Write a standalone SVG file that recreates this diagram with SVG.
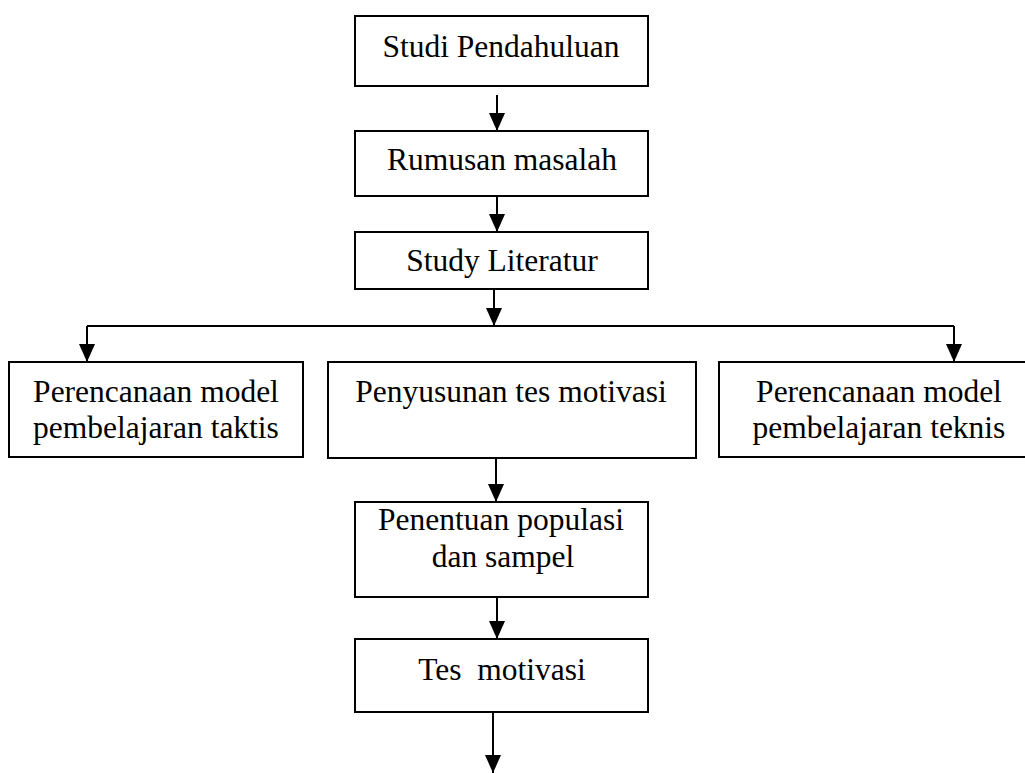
<svg xmlns="http://www.w3.org/2000/svg" width="1025" height="773" viewBox="0 0 1025 773">
<style>
.box{fill:#fff;stroke:#000;stroke-width:2}
.t{font-family:"Liberation Serif","Times New Roman",serif;font-size:31.5px;fill:#000;text-anchor:middle;white-space:pre}
.c{fill:none;stroke:#000;stroke-width:2}
</style>
<defs>
<marker id="ah" markerWidth="18" markerHeight="16" refX="18" refY="8" orient="auto" markerUnits="userSpaceOnUse" viewBox="0 0 18 16">
<path d="M0,0 L18,8 L0,16 Z" fill="#000"/>
</marker>
</defs>
<rect width="1025" height="773" fill="#fff"/>
<g id="n1"><rect class="box" x="355" y="16" width="293" height="70"/><text class="t" x="501" y="57">Studi Pendahuluan</text></g>
<g id="n2"><rect class="box" x="355" y="131" width="293" height="65"/><text class="t" x="502" y="170">Rumusan masalah</text></g>
<g id="n3"><rect class="box" x="355" y="232" width="293" height="57"/><text class="t" x="502" y="271">Study Literatur</text></g>
<g id="n4"><rect class="box" x="9" y="362" width="294" height="95"/><text class="t" x="156" y="402">Perencanaan model</text><text class="t" x="156" y="438">pembelajaran taktis</text></g>
<g id="n5"><rect class="box" x="328" y="362" width="368" height="96"/><text class="t" x="511" y="402">Penyusunan tes motivasi</text></g>
<g id="n6"><rect class="box" x="719" y="362" width="320" height="95"/><text class="t" x="879" y="402">Perencanaan model</text><text class="t" x="879" y="438">pembelajaran teknis</text></g>
<g id="n7"><rect class="box" x="355" y="502" width="293" height="95"/><text class="t" x="501" y="530">Penentuan populasi</text><text class="t" x="503" y="567">dan sampel</text></g>
<g id="n8"><rect class="box" x="355" y="639" width="293" height="73"/><text class="t" x="502" y="680">Tes  motivasi</text></g>
<g id="connectors">
<path class="c" d="M497,95 V131" marker-end="url(#ah)"/>
<path class="c" d="M497,196 V232" marker-end="url(#ah)"/>
<path class="c" d="M494,289 V326" marker-end="url(#ah)"/>
<path class="c" d="M87,326 H954"/>
<path class="c" d="M87,326 V362" marker-end="url(#ah)"/>
<path class="c" d="M954,326 V362" marker-end="url(#ah)"/>
<path class="c" d="M496,458 V502" marker-end="url(#ah)"/>
<path class="c" d="M497,597 V639" marker-end="url(#ah)"/>
<path class="c" d="M493,712 V773" marker-end="url(#ah)"/>
</g>
</svg>
